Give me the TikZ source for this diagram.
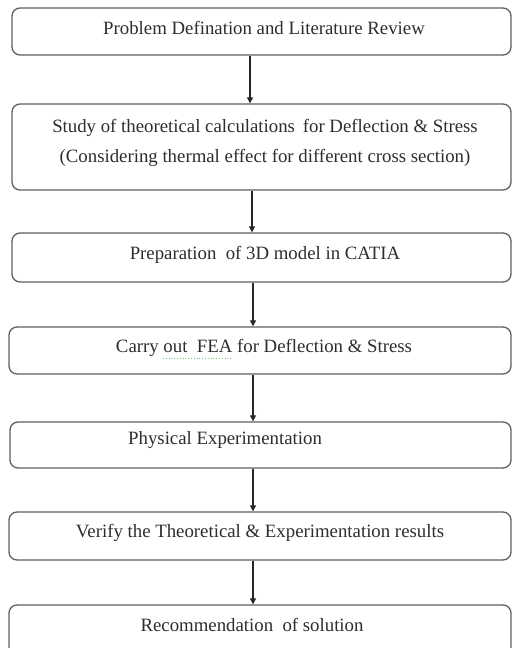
\documentclass[tikz,border=0pt]{standalone}
\usepackage{fontspec}
\setmainfont{Liberation Serif}
\usetikzlibrary{arrows.meta}
\definecolor{boxline}{RGB}{95,95,95}
\definecolor{txt}{RGB}{45,45,45}
\definecolor{squig}{RGB}{120,190,120}
\begin{document}
\begin{tikzpicture}[x=1pt,y=-1pt,
  flowbox/.style={draw=boxline, line width=1.3pt, rounded corners=8pt, inner sep=0pt},
  lbl/.style={text=txt, font=\fontsize{18.8}{30}\selectfont, inner sep=0pt, align=center},
  flowarrow/.style={draw=black!85, line width=1.1pt, -{Triangle[length=6pt,width=6pt]}}]
\useasboundingbox (0,0) rectangle (513,648);
\clip (0,0) rectangle (513,648);
% boxes
\node[flowbox, minimum width=499pt, minimum height=47pt] (b1) at (261.5,31.5) {};
\node[flowbox, minimum width=499pt, minimum height=86pt] (b2) at (261.5,147) {};
\node[flowbox, minimum width=499pt, minimum height=49pt] (b3) at (261.5,257.5) {};
\node[flowbox, minimum width=502pt, minimum height=47pt] (b4) at (260,350.5) {};
\node[flowbox, minimum width=501pt, minimum height=46pt] (b5) at (260.5,445) {};
\node[flowbox, minimum width=502pt, minimum height=48pt] (b6) at (260,536) {};
\node[flowbox, minimum width=502pt, minimum height=57pt] (b7) at (260,633.5) {};
% texts
\node[lbl] (t1) at (264,28) {Problem Defination and Literature Review};
\node[lbl] (t2) at (265,143) {Study of theoretical calculations\, for Deflection \& Stress\\(Considering thermal effect for different cross section)};
\node[lbl] (t3) at (265,255) {Preparation\ \ of 3D model in CATIA};
\node[lbl] (t4) at (264,348) {Carry out\ \ FEA for Deflection \& Stress};
\node[lbl, anchor=west] (t5) at (128,440) {Physical Experimentation};
\node[lbl] (t6) at (260,533) {Verify the Theoretical \& Experimentation results};
\node[lbl] (t7) at (252,625) {Recommendation\ \ of solution};
% spell-check squiggle under "out FEA"
\coordinate (sq1) at (163,358);
\coordinate (sq2) at (233,358);
\draw[squig, line width=0.8pt, dotted] (sq1) -- (sq2);
% arrows
\coordinate (a1) at (250,0);
\coordinate (a2) at (252,0);
\coordinate (a3) at (253,0);
\draw[flowarrow] (b1.south -| a1) -- (b2.north -| a1);
\draw[flowarrow] (b2.south -| a2) -- (b3.north -| a2);
\draw[flowarrow] (b3.south -| a3) -- (b4.north -| a3);
\draw[flowarrow] (b4.south -| a3) -- (b5.north -| a3);
\draw[flowarrow] (b5.south -| a3) -- (b6.north -| a3);
\draw[flowarrow] (b6.south -| a3) -- (b7.north -| a3);
\end{tikzpicture}
\end{document}
